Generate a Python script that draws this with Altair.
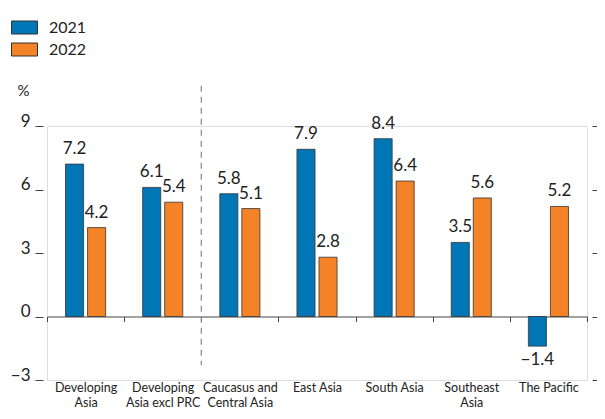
import altair as alt
import pandas as pd

# ---- data ----
categories = ["Developing|Asia", "Developing|Asia excl PRC", "Caucasus and|Central Asia",
              "East Asia", "South Asia", "Southeast|Asia", "The Pacific"]
years = ["2021", "2022"]
growth_2021 = [7.2, 6.1, 5.8, 7.9, 8.4, 3.5, -1.4]
growth_2022 = [4.2, 5.4, 5.1, 2.8, 6.4, 5.6, 5.2]
y_ticks = [-3, 0, 3, 6, 9]
divider_region = "Caucasus and|Central Asia"

rows = []
for c, a, b in zip(categories, growth_2021, growth_2022):
    rows.append({"region": c, "year": years[0], "value": a})
    rows.append({"region": c, "year": years[1], "value": b})
df = pd.DataFrame(rows)

FONT = "Lato"
BLUE = "#0076B6"
ORANGE = "#F48226"
DARK = "#222222"
AXIS = "#444444"

x_axis = alt.Axis(title=None, labelExpr="split(datum.label, '|')", labelAngle=0,
                  tickBand="extent", offset=-63.5, domainColor=AXIS, tickColor=AXIS,
                  tickSize=5, labelPadding=60, labelBaseline="top", labelFontSize=12.5,
                  labelLineHeight=15, labelColor=DARK, labelFont=FONT, grid=False,
                  labelOverlap=False, labelBound=False)
x_scale = alt.Scale(paddingInner=0, paddingOuter=0)
xo = alt.XOffset("year:N", scale=alt.Scale(paddingInner=0.18, paddingOuter=0.84))
y_scale = alt.Scale(domain=[-3, 9], nice=False, zero=False)

base = alt.Chart(df)

bars = base.mark_bar(stroke="#333333", strokeWidth=0.8).encode(
    x=alt.X("region:N", sort=categories, scale=x_scale, axis=x_axis),
    xOffset=xo,
    y=alt.Y("value:Q", scale=y_scale,
            axis=alt.Axis(values=y_ticks, title="%", titleAngle=0, titleX=-26, titleY=-36,
                          titleAlign="left", titleBaseline="middle", titleFontSize=15,
                          titleFontWeight="normal", titleColor=DARK, titleFont=FONT,
                          domain=False, offset=4, tickSize=8, tickColor=AXIS,
                          labelPadding=5, labelBaseline="alphabetic", labelFontSize=17,
                          labelColor=DARK, labelFont=FONT, grid=False)),
    color=alt.Color("year:N", scale=alt.Scale(domain=years, range=[BLUE, ORANGE]),
                    legend=alt.Legend(title=None, orient="none", legendX=-36, legendY=-112,
                                      symbolType="M-1,-0.5H1V0.5H-1Z", symbolSize=676,
                                      symbolStrokeColor="#333333", symbolStrokeWidth=1,
                                      labelFontSize=16, labelOffset=11, rowPadding=-4,
                                      labelFont=FONT, labelColor=DARK, symbolOpacity=1)),
)

pos_text = base.transform_filter("datum.value >= 0").mark_text(
    dy=-10, baseline="alphabetic", fontSize=17, font=FONT, color=DARK
).encode(
    x=alt.X("region:N", sort=categories, scale=x_scale, axis=x_axis),
    xOffset=xo,
    y=alt.Y("value:Q", scale=y_scale, axis=None),
    text=alt.Text("value:Q", format=".1f"),
)

neg_text = base.transform_filter("datum.value < 0").mark_text(
    dy=6, baseline="top", fontSize=17, font=FONT, color=DARK
).encode(
    x=alt.X("region:N", sort=categories, scale=x_scale, axis=x_axis),
    xOffset=xo,
    y=alt.Y("value:Q", scale=y_scale, axis=None),
    text=alt.Text("value:Q", format=".1f"),
)

divider = alt.Chart(pd.DataFrame({"region": [divider_region]})).mark_rule(
    strokeDash=[6, 5], color="#888888", strokeWidth=1.2
).encode(
    x=alt.X("region:N", sort=categories, scale=x_scale, axis=x_axis, bandPosition=0),
    y=alt.YDatum(10.9, axis=None, scale=y_scale),
    y2=alt.Y2Datum(-2.3),
)

right_axis = base.mark_point(opacity=0).encode(
    x=alt.X("region:N", sort=categories, scale=x_scale, axis=x_axis),
    y=alt.Y("value:Q", scale=y_scale,
            axis=alt.Axis(orient="right", values=y_ticks, title=None, labels=False,
                          domain=False, offset=5, tickSize=5, tickColor=AXIS, grid=False)),
)

chart = alt.layer(bars, pos_text, neg_text, divider, right_axis).resolve_axis(
    y="independent"
).properties(
    width=540, height=254,
    padding={"left": 39, "top": 118, "right": 10, "bottom": 31},
    autosize=alt.AutoSizeParams(type="none"),
).configure_view(stroke=None).configure(font=FONT)

chart.save("out.html", embed_options={"renderer": "svg", "actions": False})
